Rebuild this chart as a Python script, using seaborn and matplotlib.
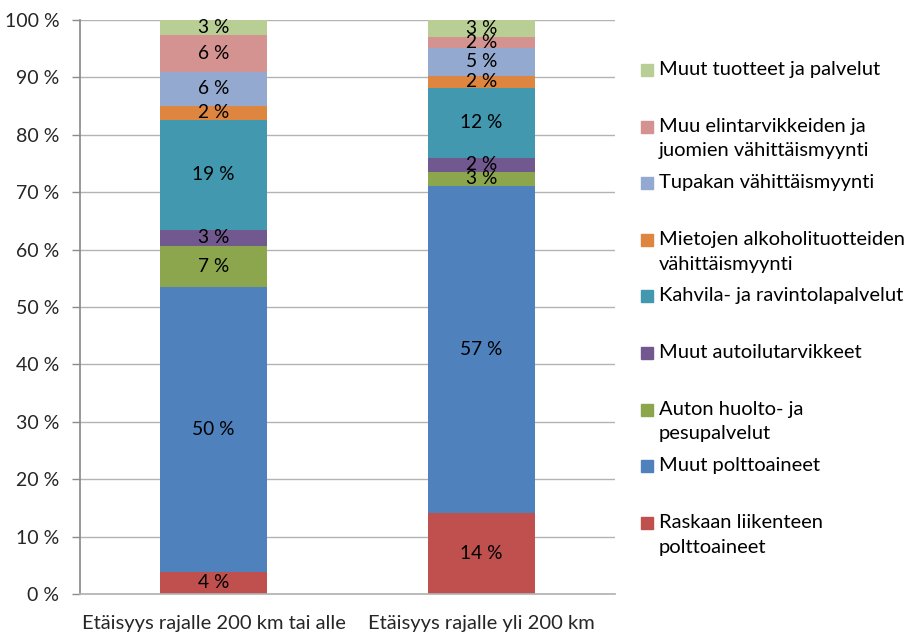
import matplotlib
matplotlib.use("Agg")
import matplotlib.pyplot as plt
import matplotlib.patches as mpatches
import pandas as pd
import seaborn as sns
from matplotlib.ticker import FuncFormatter, MultipleLocator

# stacked shares (%) per distance group, bottom -> top
categories = ["Etäisyys rajalle 200 km tai alle", "Etäisyys rajalle yli 200 km"]
segments = [
    "Raskaan liikenteen polttoaineet",
    "Muut polttoaineet",
    "Auton huolto- ja pesupalvelut",
    "Muut autoilutarvikkeet",
    "Kahvila- ja ravintolapalvelut",
    "Mietojen alkoholituotteiden vähittäismyynti",
    "Tupakan vähittäismyynti",
    "Muu elintarvikkeiden ja juomien vähittäismyynti",
    "Muut tuotteet ja palvelut",
]
legend_text = [
    "Raskaan liikenteen\npolttoaineet",
    "Muut polttoaineet",
    "Auton huolto- ja\npesupalvelut",
    "Muut autoilutarvikkeet",
    "Kahvila- ja ravintolapalvelut",
    "Mietojen alkoholituotteiden\nvähittäismyynti",
    "Tupakan vähittäismyynti",
    "Muu elintarvikkeiden ja\njuomien vähittäismyynti",
    "Muut tuotteet ja palvelut",
]
near_share = [3.9, 49.6, 7.2, 2.7, 19.2, 2.4, 6.0, 6.3, 2.7]
far_share = [14.1, 56.9, 2.6, 2.4, 12.2, 2.0, 5.0, 1.9, 2.9]
colors = ["#C0504D", "#4F81BD", "#8BA64C", "#71588F", "#4198AF",
          "#DE8640", "#94A9CF", "#D49290", "#B9CE95"]

df = pd.DataFrame({
    "group": [categories[0]] * len(segments) + [categories[1]] * len(segments),
    "segment": segments * 2,
    "share": near_share + far_share,
})

sns.set_theme(style="white")
plt.rcParams["font.family"] = ["Lato", "DejaVu Sans"]

fig = plt.figure(figsize=(9.1, 6.32), dpi=100)
ax = fig.add_axes([80 / 910, 1 - 594 / 632, 535 / 910, 574 / 632])

sns.histplot(data=df, x="group", weights="share", hue="segment",
             hue_order=segments[::-1], palette=dict(zip(segments, colors)),
             multiple="stack", discrete=True, shrink=0.4, alpha=1,
             linewidth=0, legend=False, ax=ax)

for cont in ax.containers:
    vals = [p.get_height() for p in cont.patches]
    ax.bar_label(cont, labels=[f"{v:.0f} %" for v in vals],
                 label_type="center", fontsize=13.8, color="black")

ax.set_xlim(-0.5, 1.5)
ax.set_ylim(0, 100)
ax.yaxis.set_major_locator(MultipleLocator(10))
ax.yaxis.set_major_formatter(FuncFormatter(lambda v, _: f"{v:.0f} %"))
ax.grid(axis="y", color="#B3B3B3", linewidth=1)
ax.set_axisbelow(True)
ax.set_xlabel("")
ax.set_ylabel("")
for s in ("top", "right"):
    ax.spines[s].set_visible(False)
ax.spines["left"].set_color("#8C8C8C")
ax.spines["bottom"].set_color("#B3B3B3")
ax.tick_params(axis="y", length=6, color="#8C8C8C", width=1, pad=9,
               labelsize=14, left=True)
ax.tick_params(axis="x", length=0, pad=15, labelsize=14.5)

# legend laid out like the spreadsheet original: evenly spaced slots, top-aligned
x0, y_first, step = 641, 70, 56.6
for i, (lab, col) in enumerate(zip(legend_text[::-1], colors[::-1])):
    y = y_first + i * step
    fig.add_artist(mpatches.Rectangle((x0 / 910, 1 - (y + 6) / 632), 12 / 910, 12 / 632,
                                      transform=fig.transFigure, color=col))
    fig.text(659 / 910, 1 - (y - 9) / 632, lab, fontsize=14.5, va="top",
             ha="left", linespacing=1.56, color="black")

fig.savefig("out.png", dpi=100)
